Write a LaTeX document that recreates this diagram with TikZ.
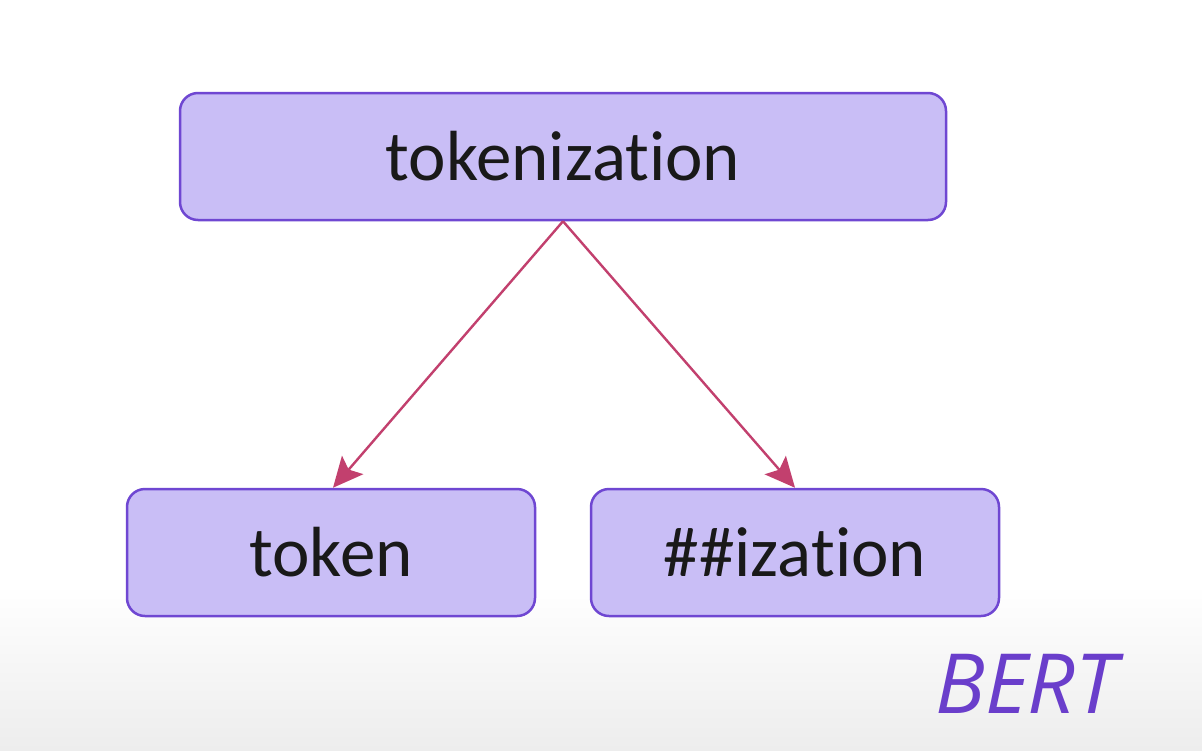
\documentclass[tikz,border=0pt]{standalone}
\usepackage{fontspec}
\setmainfont{Carlito}[Ligatures={NoCommon}]
\newfontfamily\bertfont{Open Sans}
\usetikzlibrary{arrows.meta}
\definecolor{boxfill}{HTML}{C9BEF6}
\definecolor{boxline}{HTML}{6F47D2}
\definecolor{arrowcol}{HTML}{C2406E}
\definecolor{bertcol}{HTML}{6A3ECB}
\definecolor{floorgray}{HTML}{EDEDED}
\begin{document}
\begin{tikzpicture}[x=1pt,y=-1pt,
  tokbox/.style={draw=boxline, fill=boxfill, line width=2.5pt, rounded corners=18pt,
    minimum width=766pt, minimum height=127pt, inner sep=0pt,
    font=\fontsize{71}{71}\selectfont, text=black!90},
  subbox/.style={tokbox, minimum width=408pt},
  split/.style={draw=arrowcol, line width=2.4pt, -{Stealth[length=30pt,width=28pt,inset=6pt]}}]
  % page and the grey floor fading in at the bottom
  \fill[white] (0,0) rectangle (1202,750);
  \shade[top color=white, bottom color=floorgray] (0,585) rectangle (1202,750);
  \useasboundingbox (0,0) rectangle (1202,750);
  % word and its two word pieces
  \node[tokbox] (word) at (563,156.5) {tokenization};
  \node[subbox] (left) at (331,552.5) {token};
  \node[subbox] (right) at (795,552.5) {\#\#ization};
  \draw[split] (word.south) -- (left.north -| 333,0);
  \draw[split] (word.south) -- (right.north);
  % model label
  \node[font=\bertfont\itshape\fontsize{83}{83}\selectfont, text=bertcol, anchor=base west, inner sep=0pt] (bert) at (935,713) {BERT};
\end{tikzpicture}
\end{document}
